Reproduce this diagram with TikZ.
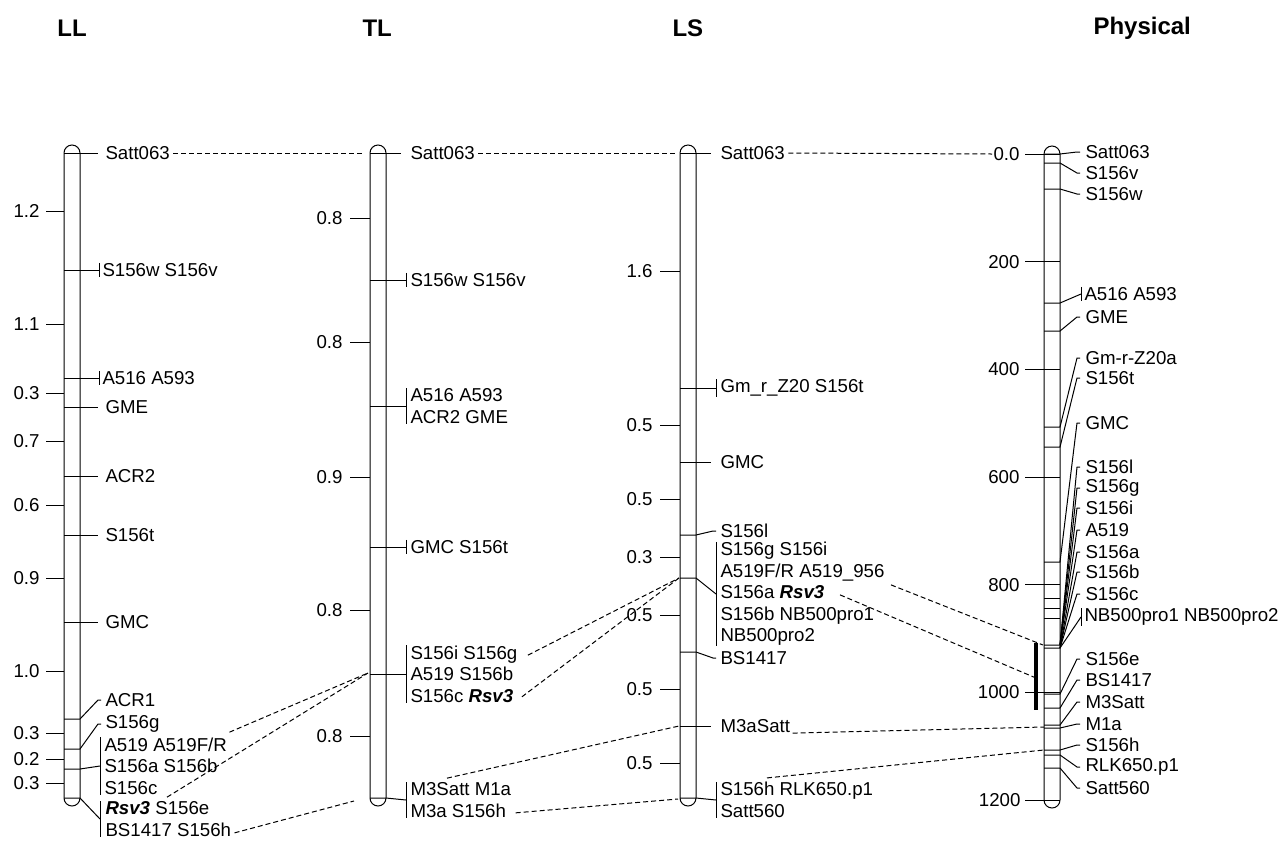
\documentclass[tikz,border=0pt]{standalone}
\usepackage{fontspec}
\setmainfont{Liberation Sans}
\usetikzlibrary{calc}
\newcommand{\rsv}{\textbf{\textit{Rsv3}}}

\begin{document}
\begin{tikzpicture}[x=0.75pt, y=-0.75pt, line width=0.75pt,
        every node/.style={inner sep=0pt, font=\fontsize{14}{16.1}\selectfont},
        mk/.style={anchor=west, align=left},
        sc/.style={anchor=east},
        ttl/.style={anchor=west, font=\bfseries\fontsize{18}{20}\selectfont},
        chrom/.style={rounded corners=6pt},
        link/.style={dash pattern=on 3.75pt off 2.25pt},
        rbar/.style={line width=3pt}]
        \useasboundingbox (0,0) rectangle (1286,840);

        \node[ttl] (tLL) at (57,28) {LL};
        \node[ttl] (tTL) at (362,28) {TL};
        \node[ttl] (tLS) at (672,28) {LS};
        \node[ttl] (tPh) at (1093,28) {Physical};

        \draw[chrom] (64,145) rectangle (80,806);
        \draw (46,211) -- (64,211) (46,324) -- (64,324) (46,393) -- (64,393) (46,441) -- (64,441) (46,505) -- (64,505)
              (46,578) -- (64,578) (46,671) -- (64,671) (46,733) -- (64,733) (46,759) -- (64,759) (46,783) -- (64,783);
        \node[sc] (llS1) at (40,211) {1.2};
        \node[sc] (llS2) at (40,324) {1.1};
        \node[sc] (llS3) at (40,393) {0.3};
        \node[sc] (llS4) at (40,441) {0.7};
        \node[sc] (llS5) at (40,505) {0.6};
        \node[sc] (llS6) at (40,578) {0.9};
        \node[sc] (llS7) at (40,671) {1.0};
        \node[sc] (llS8) at (40,733) {0.3};
        \node[sc] (llS9) at (40,759) {0.2};
        \node[sc] (llS10) at (40,783) {0.3};

        \node[mk] (llSatt) at (105,153) {Satt063};
        \node[mk] (llW) at (102,270) {S156w S156v};
        \node[mk] (llA516) at (102,378) {A516 A593};
        \node[mk] (llGME) at (105,407) {GME};
        \node[mk] (llACR2) at (105,476) {ACR2};
        \node[mk] (llT) at (105,535) {S156t};
        \node[mk] (llGMC) at (105,622) {GMC};
        \node[mk] (llACR1) at (105,700) {ACR1};
        \node[mk] (llG) at (105,724) {S156g};
        \node[mk] (llA519) at (104,766) {A519 A519F/R\\S156a S156b\\S156c};
        \node[mk] (llRsv) at (105,819) {\rsv{} S156e\\BS1417 S156h};

        \draw (64,153) -- ($(llSatt.west)+(-7,0)$);
        \draw (64,270) -- ($(llW.west)+(-3,0)$);
        \draw ($(llW.north west)+(-3,0)$) -- ($(llW.south west)+(-3,0)$);
        \draw (64,378) -- ($(llA516.west)+(-3,0)$);
        \draw ($(llA516.north west)+(-3,0)$) -- ($(llA516.south west)+(-3,0)$);
        \draw (64,407) -- ($(llGME.west)+(-7,0)$);
        \draw (64,476) -- ($(llACR2.west)+(-7,0)$);
        \draw (64,535) -- ($(llT.west)+(-7,0)$);
        \draw (64,622) -- ($(llGMC.west)+(-7,0)$);
        \draw (64,719) -- (80,719) -- ($(llACR1.west)+(-7,0)$) -- ($(llACR1.west)+(-4,0)$);
        \draw (64,749) -- (80,749) -- ($(llG.west)+(-7,0)$) -- ($(llG.west)+(-4,0)$);
        \draw (64,769) -- (80,769) -- ($(llA519.west)+(-4,0)$);
        \draw ($(llA519.north west)+(-4,0)$) -- ($(llA519.south west)+(-4,0)$);
        \draw (64,798) -- (80,798) -- ($(llRsv.west)+(-5,0)$);
        \draw ($(llRsv.north west)+(-5,0)$) -- ($(llRsv.south west)+(-5,0)$);

        \draw[chrom] (370,145) rectangle (386,806);
        \draw (350,218) -- (370,218) (350,342) -- (370,342) (350,477) -- (370,477) (350,610) -- (370,610) (350,736) -- (370,736);
        \node[sc] (tlS1) at (343,218) {0.8};
        \node[sc] (tlS2) at (343,342) {0.8};
        \node[sc] (tlS3) at (343,477) {0.9};
        \node[sc] (tlS4) at (343,610) {0.8};
        \node[sc] (tlS5) at (343,736) {0.8};

        \node[mk] (tlSatt) at (410,153) {Satt063};
        \node[mk] (tlW) at (410,280) {S156w S156v};
        \node[mk] (tlA516) at (410,406) {A516 A593\\ACR2 GME};
        \node[mk] (tlGMC) at (410,547) {GMC S156t};
        \node[mk] (tlRsv) at (410,674) {S156i S156g\\A519 S156b\\S156c \rsv};
        \node[mk] (tlM3) at (410,800) {M3Satt M1a\\M3a S156h};

        \draw (370,153) -- ($(tlSatt.west)+(-9,0)$);
        \draw (370,280) -- ($(tlW.west)+(-4,0)$);
        \draw ($(tlW.north west)+(-4,0)$) -- ($(tlW.south west)+(-4,0)$);
        \draw (370,406) -- ($(tlA516.west)+(-4,0)$);
        \draw ($(tlA516.north west)+(-4,0)$) -- ($(tlA516.south west)+(-4,0)$);
        \draw (370,547) -- ($(tlGMC.west)+(-4,0)$);
        \draw ($(tlGMC.north west)+(-4,0)$) -- ($(tlGMC.south west)+(-4,0)$);
        \draw (370,674) -- ($(tlRsv.west)+(-4,0)$);
        \draw ($(tlRsv.north west)+(-4,0)$) -- ($(tlRsv.south west)+(-4,0)$);
        \draw (370,798) -- (386,798) -- ($(tlM3.west)+(-4,0)$);
        \draw ($(tlM3.north west)+(-4,0)$) -- ($(tlM3.south west)+(-4,0)$);

        \draw[chrom] (680,145) rectangle (696,806);
        \draw (660,271) -- (680,271) (660,425) -- (680,425) (660,499) -- (680,499) (660,557) -- (680,557)
              (660,615) -- (680,615) (660,689) -- (680,689) (660,763) -- (680,763);
        \node[sc] (lsS1) at (653,271) {1.6};
        \node[sc] (lsS2) at (653,425) {0.5};
        \node[sc] (lsS3) at (653,499) {0.5};
        \node[sc] (lsS4) at (653,557) {0.3};
        \node[sc] (lsS5) at (653,615) {0.5};
        \node[sc] (lsS6) at (653,689) {0.5};
        \node[sc] (lsS7) at (653,763) {0.5};

        \node[mk] (lsSatt) at (720,153) {Satt063};
        \node[mk] (lsGm) at (720,388) {Gm\_r\_Z20 S156t};
        \node[mk] (lsGMC) at (720,462) {GMC};
        \node[mk] (lsL) at (720,531) {S156l};
        \node[mk] (lsGrp) at (720,594) {S156g S156i\\A519F/R A519\_956\\S156a \rsv\\S156b NB500pro1\\NB500pro2};
        \node[mk] (lsBS) at (720,658) {BS1417};
        \node[mk] (lsM3) at (720,726) {M3aSatt};
        \node[mk] (lsBot) at (720,800) {S156h RLK650.p1\\Satt560};

        \draw (680,153) -- ($(lsSatt.west)+(-9,0)$);
        \draw (680,388) -- ($(lsGm.west)+(-4,0)$);
        \draw ($(lsGm.north west)+(-4,0)$) -- ($(lsGm.south west)+(-4,0)$);
        \draw (680,462) -- ($(lsGMC.west)+(-9,0)$);
        \draw (680,535) -- (696,535) -- ($(lsL.west)+(-7,0)$) -- ($(lsL.west)+(-4,0)$);
        \draw (680,578) -- (696,578) -- ($(lsGrp.west)+(-4,0)$);
        \draw ($(lsGrp.north west)+(-4,0)$) -- ($(lsGrp.south west)+(-4,0)$);
        \draw (680,652) -- (696,652) -- ($(lsBS.west)+(-7,0)$) -- ($(lsBS.west)+(-4,0)$);
        \draw (680,726) -- ($(lsM3.west)+(-9,0)$);
        \draw (680,798) -- (696,798) -- ($(lsBot.west)+(-4,0)$);
        \draw ($(lsBot.north west)+(-4,0)$) -- ($(lsBot.south west)+(-4,0)$);

        \draw[chrom] (1044,146) rectangle (1060,808);
        \draw (1025,154) -- (1060,154) (1025,261.7) -- (1060,261.7) (1025,369.3) -- (1060,369.3) (1025,477) -- (1060,477)
              (1025,584.7) -- (1060,584.7) (1025,692.3) -- (1060,692.3) (1025,800) -- (1060,800);
        \node[sc] (phS0) at (1020,154) {0.0};
        \node[sc] (phS1) at (1020,261.7) {200};
        \node[sc] (phS2) at (1020,369.3) {400};
        \node[sc] (phS3) at (1020,477) {600};
        \node[sc] (phS4) at (1020,584.7) {800};
        \node[sc] (phS5) at (1020,692.3) {1000};
        \node[sc] (phS6) at (1021,800) {1200};
        \draw[rbar] (1036,643) -- (1036,710);
        \draw (1044,598) -- (1060,598) (1044,608) -- (1060,608) (1044,618) -- (1060,618);

        \node[mk] (phSatt) at (1085,152) {Satt063};
        \node[mk] (phV) at (1085,173) {S156v};
        \node[mk] (phW) at (1085,194) {S156w};
        \node[mk] (phA516) at (1084,294) {A516 A593};
        \node[mk] (phGME) at (1085,317) {GME};
        \node[mk] (phGm) at (1085,358) {Gm-r-Z20a};
        \node[mk] (phT) at (1085,378) {S156t};
        \node[mk] (phGMC) at (1085,423) {GMC};
        \node[mk] (phL) at (1085,467) {S156l};
        \node[mk] (phG) at (1085,488) {S156g};
        \node[mk] (phI) at (1085,508) {S156i};
        \node[mk] (phA519) at (1085,530) {A519};
        \node[mk] (phA) at (1085,552) {S156a};
        \node[mk] (phB) at (1085,572) {S156b};
        \node[mk] (phC) at (1085,594) {S156c};
        \node[mk] (phNB) at (1084,617) {NB500pro1 NB500pro2};
        \node[mk] (phE) at (1085,659) {S156e};
        \node[mk] (phBS) at (1085,680) {BS1417};
        \node[mk] (phM3) at (1085,702) {M3Satt};
        \node[mk] (phM1) at (1085,724) {M1a};
        \node[mk] (phH) at (1085,745) {S156h};
        \node[mk] (phRLK) at (1085,767) {RLK650.p1};
        \node[mk] (phS560) at (1085,788) {Satt560};

        \draw (1044,154) -- (1060,154) -- ($(phSatt.west)+(-8,0)$) -- ($(phSatt.west)+(-5,0)$);
        \draw (1044,163) -- (1060,163) -- ($(phV.west)+(-8,0)$) -- ($(phV.west)+(-5,0)$);
        \draw (1044,189) -- (1060,189) -- ($(phW.west)+(-8,0)$) -- ($(phW.west)+(-5,0)$);
        \draw (1044,303) -- (1060,303) -- ($(phA516.west)+(-3,0)$);
        \draw ($(phA516.north west)+(-3,0)$) -- ($(phA516.south west)+(-3,0)$);
        \draw (1044,331) -- (1060,331) -- ($(phGME.west)+(-8,0)$) -- ($(phGME.west)+(-5,0)$);
        \draw (1044,427) -- (1060,427) -- ($(phGm.west)+(-8,0)$) -- ($(phGm.west)+(-5,0)$);
        \draw (1044,447) -- (1060,447) -- ($(phT.west)+(-8,0)$) -- ($(phT.west)+(-5,0)$);
        \draw (1044,562) -- (1060,562) -- ($(phGMC.west)+(-8,0)$) -- ($(phGMC.west)+(-5,0)$);
        \draw (1044,645) -- (1060,645) -- ($(phL.west)+(-8,0)$) -- ($(phL.west)+(-5,0)$);
        \draw (1060,645) -- ($(phG.west)+(-8,0)$) -- ($(phG.west)+(-5,0)$);
        \draw (1060,645) -- ($(phI.west)+(-8,0)$) -- ($(phI.west)+(-5,0)$);
        \draw (1060,645) -- ($(phA519.west)+(-8,0)$) -- ($(phA519.west)+(-5,0)$);
        \draw (1044,648) -- (1060,648) -- ($(phA.west)+(-8,0)$) -- ($(phA.west)+(-5,0)$);
        \draw (1060,648) -- ($(phB.west)+(-8,0)$) -- ($(phB.west)+(-5,0)$);
        \draw (1060,648) -- ($(phC.west)+(-8,0)$) -- ($(phC.west)+(-5,0)$);
        \draw (1060,648) -- ($(phNB.west)+(-3,0)$);
        \draw ($(phNB.north west)+(-3,0)$) -- ($(phNB.south west)+(-3,0)$);
        \draw (1044,694) -- (1060,694) -- ($(phE.west)+(-8,0)$) -- ($(phE.west)+(-5,0)$);
        \draw (1044,708) -- (1060,708) -- ($(phBS.west)+(-8,0)$) -- ($(phBS.west)+(-5,0)$);
        \draw (1044,725) -- (1060,725) -- ($(phM3.west)+(-8,0)$) -- ($(phM3.west)+(-5,0)$);
        \draw (1044,728) -- (1060,728) -- ($(phM1.west)+(-8,0)$) -- ($(phM1.west)+(-5,0)$);
        \draw (1044,750) -- (1060,750) -- ($(phH.west)+(-8,0)$) -- ($(phH.west)+(-5,0)$);
        \draw (1044,755) -- (1060,755) -- ($(phRLK.west)+(-8,0)$) -- ($(phRLK.west)+(-5,0)$);
        \draw (1044,768) -- (1060,768) -- ($(phS560.west)+(-8,0)$) -- ($(phS560.west)+(-5,0)$);

        \coordinate (tlSattL) at (363,153);
        \coordinate (lsSattL) at (676,153);
        \coordinate (phSattL) at (992,154);
        \coordinate (tlRsvL) at (368,673);
        \coordinate (tlBotL) at (354,801);
        \coordinate (lsGrpL) at (679,578);
        \coordinate (lsM3L) at (679,726);
        \coordinate (lsBotL) at (678,799);
        \coordinate (phA519L) at (1043,645);
        \coordinate (phBarL) at (1036,678);
        \coordinate (phM1L) at (1044,727);
        \coordinate (phHL) at (1044,750);

        \draw[link] ($(llSatt.east)+(3,0)$) -- (tlSattL);
        \draw[link] ($(tlSatt.east)+(3,0)$) -- (lsSattL);
        \draw[link] ($(lsSatt.east)+(3,0)$) -- (phSattL);
        \draw[link] ($(llA519.north east)+(2,-5)$) -- (tlRsvL);
        \draw[link] ($(llRsv.north west)+(62,-4)$) -- (tlRsvL);
        \draw[link] ($(llRsv.south east)+(3,-4)$) -- (tlBotL);
        \draw[link] ($(tlRsv.north east)+(10,10)$) -- (lsGrpL);
        \draw[link] ($(tlRsv.south east)+(4,-6)$) -- (lsGrpL);
        \draw[link] ($(tlM3.north west)+(37,-4)$) -- (lsM3L);
        \draw[link] ($(tlM3.south east)+(4,-5)$) -- (lsBotL);
        \draw[link] ($(lsGrp.north east)+(6,43)$) -- (phA519L);
        \draw[link] ($(lsGrp.north west)+(120,53)$) -- (phBarL);
        \draw[link] ($(lsM3.south east)+(2,0)$) -- (phM1L);
        \draw[link] ($(lsBot.north west)+(47,-4)$) -- (phHL);
    \end{tikzpicture}
\end{document}
